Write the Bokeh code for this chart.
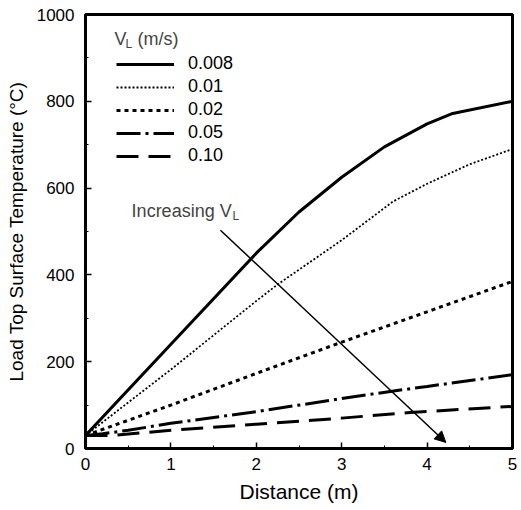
from bokeh.plotting import figure
from bokeh.models import (Legend, LegendItem, Label, Arrow, NormalHead,
                          SingleIntervalTicker)
from bokeh.embed import file_html
from bokeh.resources import INLINE

# ---- data ----
x_008 = [0, 1, 2, 2.5, 3, 3.5, 4, 4.3, 5]
y_008 = [30, 240, 450, 545, 625, 695, 748, 772, 800]

x_01 = [0, 1, 2, 2.25, 3, 3.6, 4, 4.5, 5]
y_01 = [30, 182, 340, 378, 480, 569, 610, 655, 690]

x_02 = [0, 1, 2, 3, 4, 5]
y_02 = [30, 100, 173, 245, 315, 385]

x_05 = [0, 0.2, 0.5, 1, 2, 3, 3.55, 4, 5]
y_05 = [30, 34, 42, 58, 85, 115, 131, 143, 170]

x_10 = [0, 0.3, 1, 2, 3, 3.8, 5]
y_10 = [30, 30, 42, 56, 70, 83, 97]

series_labels = ["0.008", "0.01", "0.02", "0.05", "0.10"]
x_ticks_interval = 1
y_ticks_interval = 200

arrow_start = (1.58, 503)
arrow_end = (4.22, 14)
annot_pos = (0.54, 547)
legend_title_pos = (0.34, 943)

FONT = "Liberation Sans"

p = figure(width=521, height=510, x_range=(0, 5), y_range=(0, 1000),
           output_backend="svg", toolbar_location=None,
           min_border_left=85, min_border_right=9, min_border_top=14,
           min_border_bottom=62)

p.xgrid.visible = False
p.ygrid.visible = False
p.background_fill_color = "white"
p.border_fill_color = "white"
p.outline_line_color = "black"
p.outline_line_width = 3

p.xaxis.ticker = SingleIntervalTicker(interval=x_ticks_interval, num_minor_ticks=2)
p.yaxis.ticker = SingleIntervalTicker(interval=y_ticks_interval, num_minor_ticks=2)
for ax in (p.xaxis, p.yaxis):
    ax.axis_line_width = 3
    ax.axis_line_color = "black"
    ax.major_tick_in = 6
    ax.major_tick_out = 0
    ax.minor_tick_in = 3
    ax.minor_tick_out = 0
    ax.major_tick_line_width = 1.5
    ax.major_label_text_font = FONT
    ax.major_label_text_font_size = "17px"
    ax.major_label_text_color = "black"
    ax.axis_label_text_font = FONT
    ax.axis_label_text_font_style = "normal"
    ax.axis_label_text_color = "black"
p.xaxis.axis_label_text_font_size = "21px"
p.yaxis.axis_label_text_font_size = "19px"
p.xaxis.axis_label = "Distance (m)"
p.yaxis.axis_label = "Load Top Surface Temperature (°C)"
p.xaxis.major_label_standoff = 9
p.yaxis.major_label_standoff = 11
p.xaxis.axis_label_standoff = 7
p.yaxis.axis_label_standoff = 7

r1 = p.line(x_008, y_008, line_color="black", line_width=3)
r2 = p.line(x_01, y_01, line_color="black", line_width=1.8, line_dash="2 2")
r3 = p.line(x_02, y_02, line_color="black", line_width=3, line_dash="4 4")
r4 = p.line(x_05, y_05, line_color="black", line_width=3, line_dash="24 5 3 5")
r5 = p.line(x_10, y_10, line_color="black", line_width=3, line_dash="22 10")

legend = Legend(items=[LegendItem(label=l, renderers=[r]) for l, r in
                       zip(series_labels, [r1, r2, r3, r4, r5])],
                location=(31, 282), glyph_width=58, glyph_height=20,
                label_height=20, spacing=2, padding=0, margin=0,
                label_standoff=14, border_line_color=None,
                background_fill_alpha=0, label_text_font=FONT,
                label_text_font_size="18px", label_text_color="black")
p.add_layout(legend, "center")

# legend title V_L (m/s)
p.add_layout(Label(x=legend_title_pos[0], y=legend_title_pos[1], text="V",
                   text_font=FONT, text_font_size="18px", text_baseline="middle",
                   text_align="left"))
p.add_layout(Label(x=legend_title_pos[0], y=legend_title_pos[1], x_offset=11,
                   y_offset=-5, text="L", text_font=FONT, text_font_size="12px",
                   text_baseline="middle", text_align="left"))
p.add_layout(Label(x=legend_title_pos[0], y=legend_title_pos[1], x_offset=23,
                   text="(m/s)", text_font=FONT, text_font_size="18px",
                   text_baseline="middle", text_align="left"))

# annotation Increasing V_L
p.add_layout(Label(x=annot_pos[0], y=annot_pos[1], text="Increasing V",
                   text_font=FONT, text_font_size="18px", text_baseline="middle",
                   text_align="left"))
p.add_layout(Label(x=annot_pos[0], y=annot_pos[1], x_offset=101, y_offset=-5,
                   text="L", text_font=FONT, text_font_size="12px",
                   text_baseline="middle", text_align="left"))

p.add_layout(Arrow(end=NormalHead(size=11, fill_color="black", line_color="black"),
                   x_start=arrow_start[0], y_start=arrow_start[1],
                   x_end=arrow_end[0], y_end=arrow_end[1],
                   line_color="black", line_width=1.5))

open("out.html", "w").write(file_html(p, INLINE))
